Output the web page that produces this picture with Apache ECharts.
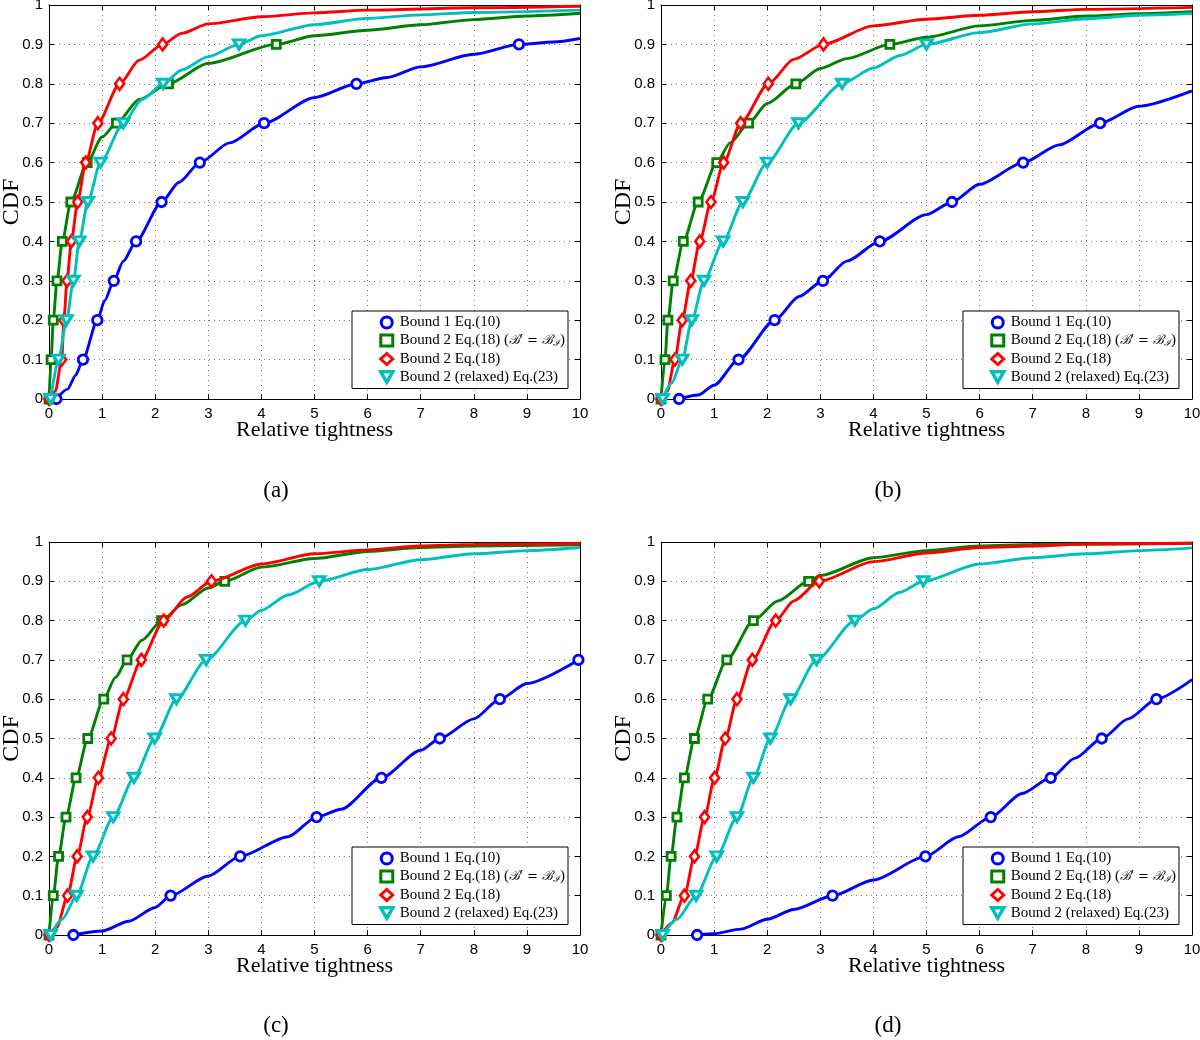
<!DOCTYPE html>
<html><head><meta charset="utf-8">
<script src="https://cdn.jsdelivr.net/npm/echarts@6/dist/echarts.min.js"></script>
<style>html,body{margin:0;padding:0;background:#fff}#c{width:1200px;height:1040px}</style>
</head><body><div id="c"></div><script>
// CDF levels at which markers are placed
const deciles = [0, 0.1, 0.2, 0.3, 0.4, 0.5, 0.6, 0.7, 0.8, 0.9];
const xTickLabels = ['0','1','2','3','4','5','6','7','8','9','10'];
const yTickLabels = ['0','0.1','0.2','0.3','0.4','0.5','0.6','0.7','0.8','0.9','1'];
const panelLabels = ['(a)', '(b)', '(c)', '(d)'];
const seriesNames = ['Bound 1 Eq.(10)', 'Bound 2 Eq.(18) (B\u2032 = B_I)', 'Bound 2 Eq.(18)', 'Bound 2 (relaxed) Eq.(23)'];

// ---- Panel (a): x positions of markers at deciles, plus extra curve points [x, y]
const a_blue_mk  = [0.14, 0.64, 0.91, 1.22, 1.64, 2.12, 2.84, 4.05, 5.79, 8.85];
const a_blue_ex  = [[0.35,0.025],[0.5,0.06],[1.05,0.25],[1.4,0.35],[2.45,0.55],[3.4,0.65],[5.0,0.765],[6.37,0.816],[7.0,0.843],[8.0,0.875],[9.5,0.906],[10,0.915]];
const a_green_mk = [0, 0.04, 0.08, 0.15, 0.25, 0.41, 0.72, 1.27, 2.25, 4.28];
const a_green_ex = [[1.0,0.665],[1.7,0.76],[3.0,0.852],[5,0.922],[6,0.936],[7,0.95],[8,0.963],[9,0.972],[10,0.979]];
const a_red_mk   = [0, 0.24, 0.28, 0.34, 0.42, 0.54, 0.69, 0.92, 1.33, 2.14];
const a_red_ex   = [[0.12,0.02],[1.7,0.86],[2.5,0.928],[3,0.952],[4,0.97],[5,0.98],[6,0.987],[8,0.993],[10,0.997]];
const a_cyan_mk  = [0.03, 0.18, 0.33, 0.46, 0.57, 0.73, 0.97, 1.4, 2.15, 3.58];
const a_cyan_ex  = [[1.75,0.76],[2.5,0.835],[3,0.869],[4,0.922],[5,0.95],[6,0.966],[7,0.975],[8,0.981],[10,0.987]];

// ---- Panel (b)
const b_blue_mk  = [0.34, 1.46, 2.14, 3.05, 4.12, 5.48, 6.82, 8.27];
const b_blue_ex  = [[0.7,0.01],[1.0,0.035],[2.6,0.26],[3.5,0.35],[5.0,0.468],[6.0,0.545],[7.5,0.645],[9.0,0.743],[10,0.782]];
const b_green_mk = [0, 0.075, 0.13, 0.23, 0.42, 0.70, 1.05, 1.65, 2.54, 4.31];
const b_green_ex = [[1.3,0.65],[2.0,0.75],[3,0.839],[3.5,0.864],[5,0.918],[6,0.947],[7,0.961],[8,0.972],[9,0.978],[10,0.983]];
const b_red_mk   = [0, 0.26, 0.40, 0.56, 0.73, 0.94, 1.18, 1.50, 2.02, 3.06];
const b_red_ex   = [[0.12,0.02],[2.5,0.862],[4,0.947],[5,0.964],[6,0.974],[7,0.983],[8,0.989],[10,0.994]];
const b_cyan_mk  = [0.03, 0.40, 0.58, 0.81, 1.17, 1.54, 2.0, 2.59, 3.41, 5.0];
const b_cyan_ex  = [[0.2,0.04],[4,0.84],[4.5,0.872],[6,0.93],[7,0.952],[8,0.965],[9,0.974],[10,0.978]];

// ---- Panel (c)
const c_blue_mk  = [0.46, 2.29, 3.60, 5.04, 6.26, 7.36, 8.49, 9.97];
const c_blue_ex  = [[1.0,0.01],[1.5,0.035],[2.0,0.07],[3.0,0.15],[4.5,0.25],[5.5,0.32],[7.0,0.47],[8.0,0.55],[9.0,0.64]];
const c_green_mk = [0, 0.08, 0.18, 0.32, 0.51, 0.73, 1.03, 1.47, 2.12, 3.31];
const c_green_ex = [[1.25,0.655],[1.75,0.75],[2.5,0.84],[3,0.883],[4,0.936],[5,0.958],[6,0.976],[7,0.986],[8,0.99],[10,0.993]];
const c_red_mk   = [0, 0.35, 0.53, 0.72, 0.93, 1.17, 1.40, 1.74, 2.16, 3.06];
const c_red_ex   = [[0.15,0.02],[2.6,0.86],[4,0.944],[5,0.97],[6,0.98],[7,0.99],[8,0.994],[10,0.996]];
const c_cyan_mk  = [0.03, 0.52, 0.83, 1.21, 1.60, 1.99, 2.40, 2.96, 3.70, 5.09];
const c_cyan_ex  = [[0.25,0.04],[4,0.826],[4.5,0.865],[6,0.93],[7,0.955],[8,0.97],[9,0.978],[10,0.986]];

// ---- Panel (d)
const d_blue_mk  = [0.68, 3.23, 4.98, 6.21, 7.34, 8.3, 9.33];
const d_blue_ex  = [[1.0,0.003],[1.5,0.015],[2.0,0.04],[2.5,0.065],[4.0,0.14],[5.6,0.25],[6.8,0.36],[7.8,0.45],[8.8,0.55],[10,0.65]];
const d_green_mk = [0, 0.10, 0.19, 0.30, 0.44, 0.63, 0.88, 1.24, 1.74, 2.78];
const d_green_ex = [[2.2,0.85],[3,0.915],[4,0.96],[5,0.978],[6,0.99],[7,0.994],[10,0.997]];
const d_red_mk   = [0, 0.44, 0.63, 0.82, 1.01, 1.21, 1.43, 1.72, 2.16, 2.98];
const d_red_ex   = [[0.2,0.03],[2.5,0.85],[4,0.95],[5,0.972],[6,0.986],[7,0.99],[8,0.995],[10,0.997]];
const d_cyan_mk  = [0.03, 0.66, 1.05, 1.43, 1.74, 2.06, 2.44, 2.93, 3.65, 4.94];
const d_cyan_ex  = [[0.3,0.04],[4,0.83],[4.5,0.872],[6,0.944],[7,0.96],[8,0.97],[9,0.978],[10,0.985]];

const panels = [
  [[a_blue_mk,a_blue_ex],[a_green_mk,a_green_ex],[a_red_mk,a_red_ex],[a_cyan_mk,a_cyan_ex]],
  [[b_blue_mk,b_blue_ex],[b_green_mk,b_green_ex],[b_red_mk,b_red_ex],[b_cyan_mk,b_cyan_ex]],
  [[c_blue_mk,c_blue_ex],[c_green_mk,c_green_ex],[c_red_mk,c_red_ex],[c_cyan_mk,c_cyan_ex]],
  [[d_blue_mk,d_blue_ex],[d_green_mk,d_green_ex],[d_red_mk,d_red_ex],[d_cyan_mk,d_cyan_ex]]
];

const colors = ['#0000ff', '#008000', '#ff0000', '#00bfbf'];
const triDown = 'path://M0,0L10,0L5,8.7Z';
const symbols = ['circle', 'rect', 'diamond', triDown];
const symSizes = [9.5, 8, [9, 12], [11, 9]];
const borderW = [2.8, 2.8, 2.6, 3.2];

const gridPos = [
  {left: 49, top: 5, width: 531, height: 394},
  {left: 661, top: 5, width: 531, height: 394},
  {left: 49, top: 542, width: 531, height: 393},
  {left: 661, top: 542, width: 531, height: 393}
];
const legendPos = [
  {left: 352, top: 311}, {left: 963, top: 311}, {left: 352, top: 847}, {left: 963, top: 847}
];
const labelPos = [[276, 491], [888, 491], [276, 1026], [888, 1026]];

function buildCurve(mk, ex) {
  const pts = mk.map((x, i) => ({value: [x, deciles[i]]}))
    .concat(ex.map(p => ({value: p, symbol: 'none'})));
  pts.sort((p, q) => p.value[0] - q.value[0] || p.value[1] - q.value[1]);
  return pts;
}

const axisTick = {show: true, inside: true, length: 5, lineStyle: {color: '#000', width: 1}};
const axisLine = {show: true, onZero: false, lineStyle: {color: '#000', width: 1}};
const splitLine = {show: true, lineStyle: {color: '#777', width: 1, type: [1, 4]}};
const numFont = {fontFamily: 'Liberation Sans, Arial, sans-serif', fontSize: 15, color: '#000'};

const option = {
  backgroundColor: '#fff',
  animation: false,
  grid: gridPos.map(g => Object.assign({containLabel: false, outerBoundsMode: 'none'}, g)),
  xAxis: [], yAxis: [], series: [], legend: [], graphic: []
};

gridPos.forEach((g, gi) => {
  option.xAxis.push({
    type: 'value', gridIndex: gi, min: 0, max: 10, interval: 1, position: 'bottom',
    axisLine, axisTick, splitLine,
    axisLabel: Object.assign({margin: 7, formatter: v => xTickLabels[Math.round(v)]}, numFont),
    name: 'Relative tightness', nameLocation: 'middle', nameGap: 20, nameMoveOverlap: false,
    nameTextStyle: {fontFamily: 'Liberation Serif, Times New Roman, serif', fontSize: 22, color: '#000'}
  });
  option.xAxis.push({
    type: 'value', gridIndex: gi, min: 0, max: 10, interval: 1, position: 'top',
    axisLine, axisTick, splitLine: {show: false}, axisLabel: {show: false}
  });
  option.yAxis.push({
    type: 'value', gridIndex: gi, min: 0, max: 1, interval: 0.1, position: 'left',
    axisLine, axisTick, splitLine,
    axisLabel: Object.assign({margin: 6, formatter: v => yTickLabels[Math.round(v * 10)]}, numFont),
    name: 'CDF', nameLocation: 'middle', nameGap: 25, nameRotate: 90, nameMoveOverlap: false,
    nameTextStyle: {fontFamily: 'Liberation Serif, Times New Roman, serif', fontSize: 24, color: '#000'}
  });
  option.yAxis.push({
    type: 'value', gridIndex: gi, min: 0, max: 1, interval: 0.1, position: 'right',
    axisLine, axisTick, splitLine: {show: false}, axisLabel: {show: false}
  });

  panels[gi].forEach((cv, si) => {
    option.series.push({
      type: 'line', name: seriesNames[si], xAxisIndex: gi * 2, yAxisIndex: gi * 2,
      data: buildCurve(cv[0], cv[1]),
      smooth: 0.25, smoothMonotone: 'x',
      showAllSymbol: true, symbol: symbols[si], symbolSize: symSizes[si],
      itemStyle: {color: '#fff', borderColor: colors[si], borderWidth: borderW[si]},
      lineStyle: {color: colors[si], width: 2.9},
      emphasis: {disabled: true}, silent: true, z: 2 + si
    });
  });

  option.legend.push({
    left: legendPos[gi].left, top: legendPos[gi].top, orient: 'vertical',
    width: 221,
    backgroundColor: '#fff', borderColor: '#000', borderWidth: 1, borderRadius: 0,
    padding: [4, 3, 4, 27], itemGap: 3, itemWidth: 12, itemHeight: 11,
    selectedMode: false,
    formatter: name => name === seriesNames[1]
      ? '{n|Bound 2 Eq.(18) (}{m|\u212C\u2032 = \u212C}{s|\u2110}{n|)}'
      : '{n|' + name + '}',
    textStyle: {
      fontFamily: 'Liberation Serif, Times New Roman, serif', fontSize: 15, color: '#000', padding: [0, 0, 0, 2],
      rich: {
        n: {fontFamily: 'Liberation Serif, Times New Roman, serif', fontSize: 15, color: '#000', lineHeight: 16},
        m: {fontFamily: 'DejaVu Serif, serif', fontStyle: 'italic', fontSize: 13, color: '#000', lineHeight: 16},
        s: {fontFamily: 'DejaVu Serif, serif', fontStyle: 'italic', fontSize: 9, color: '#000', verticalAlign: 'bottom', padding: [6, 0, 0, 0], lineHeight: 16}
      }
    },
    data: seriesNames.map((n, si) => ({
      name: n,
      icon: symbols[si],
      itemStyle: {color: '#fff', borderColor: colors[si], borderWidth: si === 3 ? 3.5 : 3}
    }))
  });

  option.graphic.push({
    type: 'text', x: labelPos[gi][0], y: labelPos[gi][1], silent: true,
    style: {text: panelLabels[gi], align: 'center', verticalAlign: 'middle',
      font: '23px "Liberation Serif", "Times New Roman", serif', fill: '#000'}
  });
});

const chart = echarts.init(document.getElementById('c'), null, {renderer: 'canvas'});
chart.setOption(option);
</script></body></html>
